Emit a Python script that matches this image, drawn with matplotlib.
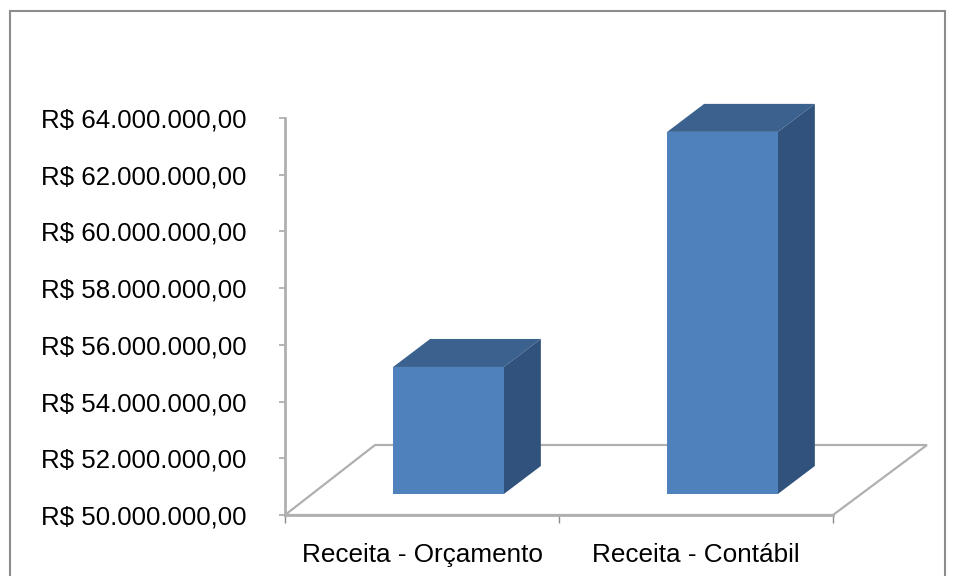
import matplotlib
matplotlib.use("Agg")
import matplotlib.pyplot as plt
from matplotlib.patches import Polygon

categories = ["Receita - Orçamento", "Receita - Contábil"]
values = [54480000, 62770000]
y_ticks = [50000000, 52000000, 54000000, 56000000, 58000000, 60000000, 62000000, 64000000]
y_labels = ["R$ 50.000.000,00", "R$ 52.000.000,00", "R$ 54.000.000,00", "R$ 56.000.000,00",
            "R$ 58.000.000,00", "R$ 60.000.000,00", "R$ 62.000.000,00", "R$ 64.000.000,00"]

W, H = 955, 576
gray = "#b0b0b0"

plt.rcParams["font.family"] = "Liberation Sans"

fig = plt.figure(figsize=(W / 100, H / 100), dpi=100)

# axes box in pixels of the reference
left, right, top, bottom = 285, 833, 118, 515
ax = fig.add_axes([left / W, 1 - bottom / H, (right - left) / W, (bottom - top) / H])
ax.set_xlim(0, 2)
ax.set_ylim(y_ticks[0], y_ticks[-1])
ax.patch.set_alpha(0)

for s in ["top", "right"]:
    ax.spines[s].set_visible(False)
for s in ["left", "bottom"]:
    ax.spines[s].set_color(gray)
    ax.spines[s].set_linewidth(2)

ax.set_yticks(y_ticks)
ax.set_yticklabels(y_labels)
ax.set_xticks([0, 1, 2])
ax.set_xticklabels([])
ax.set_xticks([0.5, 1.5], categories, minor=True)
ax.tick_params(axis="y", which="major", color=gray, width=1.3, length=4.5)
ax.tick_params(axis="x", which="major", color="#8c8c8c", width=1, length=6)
ax.tick_params(axis="y", labelsize=18.6, pad=23, labelcolor="black")
ax.tick_params(axis="x", which="minor", length=0, labelsize=18.8, pad=20, labelcolor="black")

# 3d floor, drawn behind the bars (pixel offsets from the axis line)
x0, x1 = ax.get_xlim()
y0 = ax.get_ylim()[0]
p0, p1 = ax.transData.transform([(x0, y0), (x1, y0)])
fig.add_artist(Polygon([p0, p1, p1 + (94, 70), p0 + (90, 70)], closed=True, fill=False,
                       edgecolor=gray, lw=1.6, transform=None, zorder=1))

# bars: front face sits 21px above and 26px right of the axis position
bar_w = 0.404
off_x, off_y = 26.5, 21
bar_dx, bar_dy = 37, 28
for i, v in enumerate(values):
    xc = i + 0.5
    a = ax.transData.transform((xc - bar_w / 2, y0))
    b = ax.transData.transform((xc + bar_w / 2, v))
    xl, xr = a[0] + off_x, b[0] + off_x
    yb, yt = a[1] + off_y, b[1] + off_y
    fig.add_artist(Polygon([(xl, yt), (xr, yt), (xr + bar_dx, yt + bar_dy), (xl + bar_dx, yt + bar_dy)],
                           closed=True, fc="#3b618f", ec="none", transform=None, zorder=3))
    fig.add_artist(Polygon([(xr, yb), (xr + bar_dx, yb + bar_dy), (xr + bar_dx, yt + bar_dy), (xr, yt)],
                           closed=True, fc="#30527c", ec="none", transform=None, zorder=3))
    fig.add_artist(Polygon([(xl, yb), (xr, yb), (xr, yt), (xl, yt)],
                           closed=True, fc="#4f81bd", ec="none", transform=None, zorder=3))

# chart frame, its bottom edge is cut off by the image
fig.add_artist(plt.Rectangle((10 / W, -10 / H), (945 - 10) / W, 1 - 1 / H, fill=False,
                             edgecolor="#8c8c8c", lw=1.5, transform=fig.transFigure))

fig.savefig("out.png", dpi=100)
